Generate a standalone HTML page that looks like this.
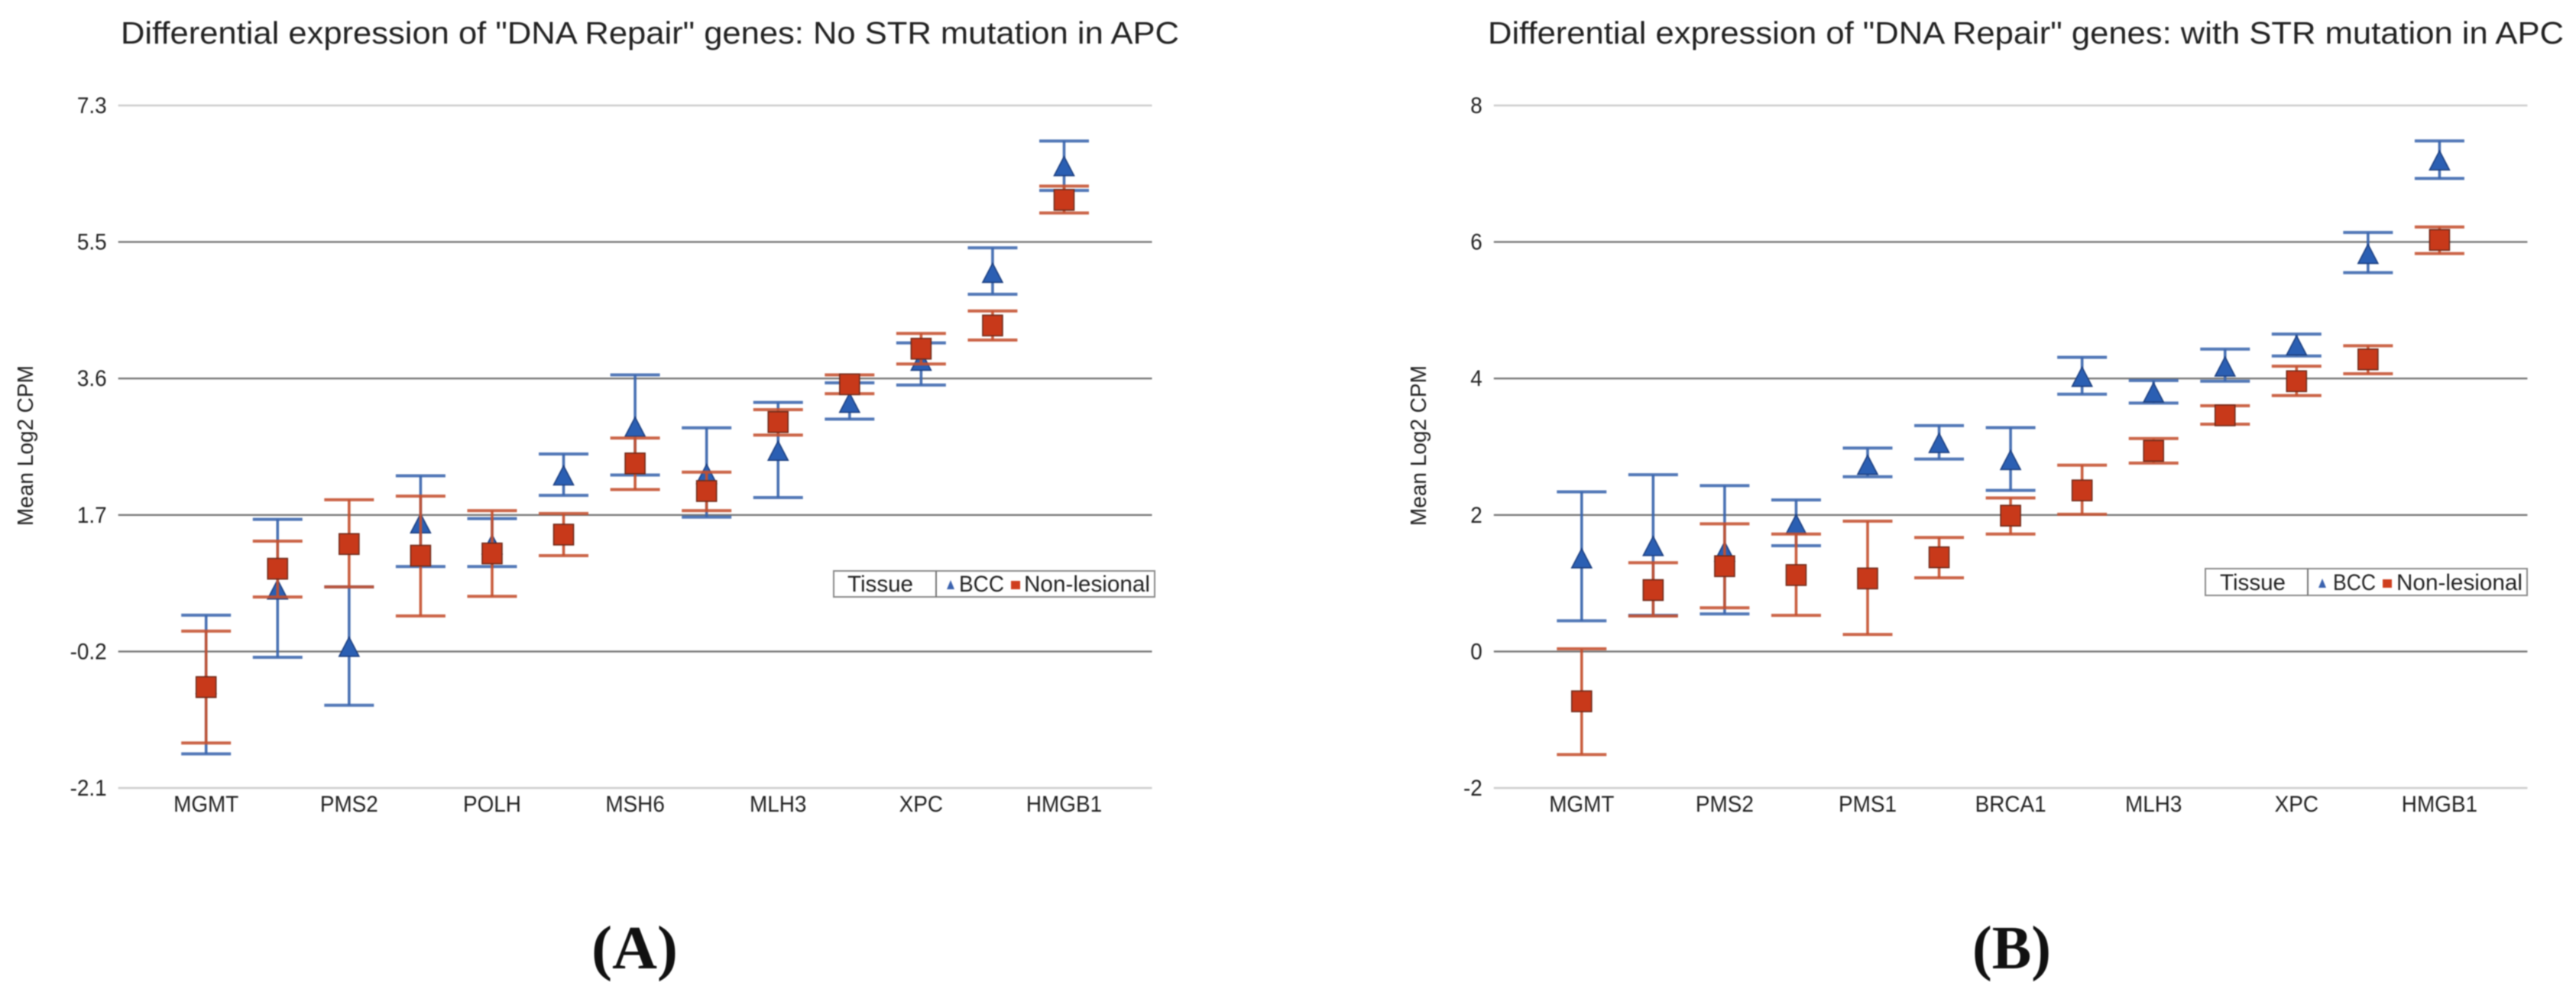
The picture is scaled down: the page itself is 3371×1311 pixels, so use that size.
<!DOCTYPE html>
<html lang="en">
<head>
<meta charset="utf-8">
<title>Differential expression of DNA Repair genes</title>
<style>
html,body{margin:0;padding:0;background:#fff;}
svg{display:block;filter:blur(0.7px);}
text{font-family:"Liberation Sans",sans-serif;fill:#222;}
.panel{font-family:"Liberation Serif",serif;font-weight:bold;fill:#111;}
</style>
</head>
<body>
<svg id="figure" width="3371" height="1311" viewBox="0 0 3371 1311" xmlns="http://www.w3.org/2000/svg">
  <rect x="0" y="0" width="3371" height="1311" fill="#ffffff"/>

  <g id="chart-a">
    <text x="158" y="57" font-size="41" textLength="1385" lengthAdjust="spacingAndGlyphs">Differential expression of "DNA Repair" genes: No STR mutation in APC</text>
    <text transform="translate(43,688) rotate(-90)" font-size="29" textLength="210" lengthAdjust="spacingAndGlyphs">Mean Log2 CPM</text>
    <g id="chart-a-plot"></g>
    <g>
      <rect x="1091" y="747" width="420" height="34" fill="#fff" stroke="#8a8a8a" stroke-width="2"/>
      <line x1="1225" y1="747" x2="1225" y2="781" stroke="#777" stroke-width="2"/>
      <text x="1109" y="774" font-size="30" textLength="86" lengthAdjust="spacingAndGlyphs">Tissue</text>
      <polygon points="1244,759 1239,771 1249,771" fill="#3b62ae"/>
      <text x="1255" y="774" font-size="30" textLength="59" lengthAdjust="spacingAndGlyphs">BCC</text>
      <rect x="1323" y="760" width="12" height="11" fill="#cf3e1e"/>
      <text x="1340" y="774" font-size="30" textLength="165" lengthAdjust="spacingAndGlyphs">Non-lesional</text>
    </g>
    <text class="panel" x="774" y="1267" font-size="80" textLength="113" lengthAdjust="spacingAndGlyphs">(A)</text>
  </g>

  <g id="chart-b">
    <text x="1947" y="57" font-size="41" textLength="1408" lengthAdjust="spacingAndGlyphs">Differential expression of "DNA Repair" genes: with STR mutation in APC</text>
    <text transform="translate(1866,688) rotate(-90)" font-size="29" textLength="210" lengthAdjust="spacingAndGlyphs">Mean Log2 CPM</text>
    <g id="chart-b-plot"></g>
    <g>
      <rect x="2886" y="744" width="421" height="35" fill="#fff" stroke="#8a8a8a" stroke-width="2"/>
      <line x1="3020" y1="744" x2="3020" y2="779" stroke="#777" stroke-width="2"/>
      <text x="2905" y="772" font-size="30" textLength="86" lengthAdjust="spacingAndGlyphs">Tissue</text>
      <polygon points="3039,757 3034,769 3044,769" fill="#3b62ae"/>
      <text x="3053" y="772" font-size="30" textLength="56" lengthAdjust="spacingAndGlyphs">BCC</text>
      <rect x="3118" y="758" width="12" height="11" fill="#cf3e1e"/>
      <text x="3136" y="772" font-size="30" textLength="165" lengthAdjust="spacingAndGlyphs">Non-lesional</text>
    </g>
    <text class="panel" x="2581" y="1267" font-size="80" textLength="103" lengthAdjust="spacingAndGlyphs">(B)</text>
  </g>
</svg>

<script>
// Chart A: No STR mutation in APC
const categoriesA = ["MGMT","","PMS2","","POLH","","MSH6","","MLH3","","XPC","","HMGB1"];
const tickValuesA = [7.3,5.42,3.54,1.66,-0.22,-2.1];
const tickLabelsA = ["7.3","5.5","3.6","1.7","-0.2","-2.1"];
const bccMeanA = [-0.67,0.63,-0.16,1.54,1.25,2.20,2.87,2.22,2.54,3.20,3.78,4.99,6.46];
const bccLowA  = [-1.63,-0.30,-0.96,0.95,0.95,1.93,2.21,1.63,1.90,2.98,3.45,4.70,6.13];
const bccHighA = [0.28,1.60,0.67,2.20,1.61,2.50,3.59,2.86,3.21,3.48,4.03,5.34,6.81];
const nlMeanA  = [-0.71,0.92,1.26,1.10,1.13,1.39,2.37,1.99,2.94,3.46,3.95,4.27,6.00];
const nlLowA   = [-1.48,0.53,0.67,0.27,0.54,1.10,2.01,1.72,2.76,3.33,3.74,4.07,5.82];
const nlHighA  = [0.06,1.30,1.87,1.92,1.72,1.68,2.72,2.25,3.11,3.59,4.16,4.47,6.19];

// Chart B: with STR mutation in APC
const categoriesB = ["MGMT","","PMS2","","PMS1","","BRCA1","","MLH3","","XPC","","HMGB1"];
const tickValuesB = [8,6,4,2,0,-2];
const tickLabelsB = ["8","6","4","2","0","-2"];
const bccMeanB = [1.36,1.54,1.46,1.86,2.73,3.05,2.80,4.02,3.79,4.17,4.48,5.82,7.19];
const bccLowB  = [0.45,0.53,0.55,1.55,2.56,2.82,2.36,3.77,3.64,3.96,4.33,5.55,6.93];
const bccHighB = [2.34,2.59,2.43,2.22,2.98,3.31,3.28,4.31,3.97,4.43,4.65,6.14,7.48];
const nlMeanB  = [-0.73,0.90,1.25,1.12,1.07,1.38,1.99,2.36,2.94,3.46,3.96,4.28,6.03];
const nlLowB   = [-1.51,0.52,0.64,0.53,0.25,1.08,1.72,2.01,2.76,3.33,3.75,4.07,5.83];
const nlHighB  = [0.04,1.30,1.87,1.72,1.91,1.67,2.25,2.73,3.12,3.60,4.18,4.48,6.22];

const SVG_NS = "http://www.w3.org/2000/svg";
const PLOT_TOP = 138;
const PLOT_BOTTOM = 1031;
const CAT_PAD = 115;
const CAP_HALF = 32.5;
const BLUE_LINE = "#3a65ad";
const RED_LINE = "#c4502f";

function mk(parent, tag, attrs) {
  const el = document.createElementNS(SVG_NS, tag);
  for (const k in attrs) el.setAttribute(k, attrs[k]);
  parent.appendChild(el);
  return el;
}

function squeeze(el) {
  const w = el.getComputedTextLength();
  el.setAttribute("textLength", (w * 0.93).toFixed(1));
  el.setAttribute("lengthAdjust", "spacingAndGlyphs");
}

function drawWhisker(g, x, yLow, yHigh, color) {
  const stem = mk(g, "line", {x1: x, x2: x, y1: yHigh, y2: yLow, stroke: color, "stroke-width": 3.6, "stroke-opacity": 0.92});
  
  
  const capTop = mk(g, "line", {x1: x - CAP_HALF, x2: x + CAP_HALF, y1: yHigh, y2: yHigh, stroke: color, "stroke-width": 4, "stroke-opacity": 0.88});
  
  
  const capLow = mk(g, "line", {x1: x - CAP_HALF, x2: x + CAP_HALF, y1: yLow, y2: yLow, stroke: color, "stroke-width": 4, "stroke-opacity": 0.88});
  
  
}

function drawChart(plotId, plotLeft, plotRight, cats, tickVals, tickLabs, bccMean, bccLow, bccHigh, nlMean, nlLow, nlHigh) {
  const g = document.getElementById(plotId);
  const domMax = tickVals[0];
  const domMin = tickVals[tickVals.length - 1];
  const yScale = v => PLOT_TOP + (domMax - v) / (domMax - domMin) * (PLOT_BOTTOM - PLOT_TOP);
  const step = (plotRight - plotLeft - 2 * CAT_PAD) / (cats.length - 1);
  const xScale = i => plotLeft + CAT_PAD + i * step;

  tickVals.forEach((v, i) => {
    const y = yScale(v);
    const edge = i === 0 || i === tickVals.length - 1;
    const grid = mk(g, "line", {x1: plotLeft, x2: plotRight, y1: y, y2: y, stroke: edge ? "#cccccc" : "#777777", "stroke-width": edge ? 2.6 : 2.4});
    
    
    const lab = mk(g, "text", {x: plotLeft - 15, y: y + 10, "font-size": 30, "text-anchor": "end"});
    lab.textContent = tickLabs[i];
    
    
    squeeze(lab);
  });

  cats.forEach((c, i) => {
    if (!c) return;
    const lab = mk(g, "text", {x: xScale(i), y: 1062, "font-size": 30, "text-anchor": "middle"});
    lab.textContent = c;
    
    
    squeeze(lab);
  });

  cats.forEach((c, i) => {
    const x = xScale(i);
    const gb = mk(g, "g", {});
    
    
    drawWhisker(gb, x, yScale(bccLow[i]), yScale(bccHigh[i]), BLUE_LINE);
    const y = yScale(bccMean[i]);
    const tri = mk(gb, "polygon", {
      points: x + "," + (y - 13) + " " + (x - 13) + "," + (y + 12) + " " + (x + 13) + "," + (y + 12),
      fill: "#2b5fb3", stroke: "#1c3f80", "stroke-width": 1.6
    });
    
    
  });

  cats.forEach((c, i) => {
    const x = xScale(i);
    const gn = mk(g, "g", {});
    
    
    drawWhisker(gn, x, yScale(nlLow[i]), yScale(nlHigh[i]), RED_LINE);
    const y = yScale(nlMean[i]);
    const sq = mk(gn, "rect", {x: x - 13, y: y - 13.5, width: 26, height: 27, fill: "#c8391a", stroke: "#6f2a1a", "stroke-width": 1.6});
    
    
  });
}

drawChart("chart-a-plot", 154.7, 1507.5, categoriesA, tickValuesA, tickLabelsA, bccMeanA, bccLowA, bccHighA, nlMeanA, nlLowA, nlHighA);
drawChart("chart-b-plot", 1954.8, 3307.4, categoriesB, tickValuesB, tickLabelsB, bccMeanB, bccLowB, bccHighB, nlMeanB, nlLowB, nlHighB);
</script>
</body>
</html>
